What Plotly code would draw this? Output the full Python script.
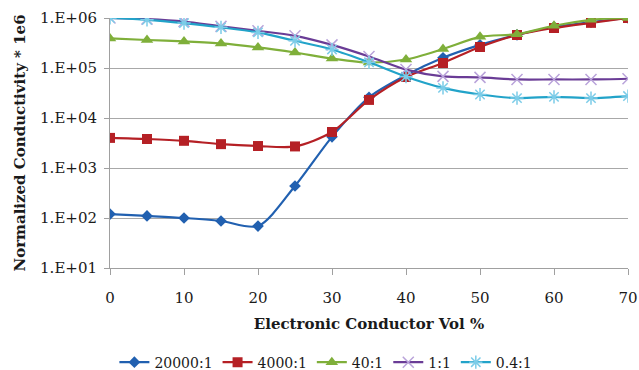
import plotly.graph_objects as go

vol = [0, 5, 10, 15, 20, 25, 30, 35, 40, 45, 50, 55, 60, 65, 70]
s20000 = [120, 110, 100, 87, 69, 437, 4200, 26000, 72000, 160000, 290000, 460000, 660000, 830000, 1000000]
s4000 = [4000, 3800, 3500, 3000, 2750, 2700, 5250, 23000, 66000, 126000, 263000, 457000, 630000, 800000, 1000000]
s40 = [390000, 363000, 340000, 310000, 258000, 204000, 155000, 129000, 148000, 240000, 420000, 475000, 700000, 920000, 1000000]
s1 = [1000000, 950000, 850000, 680000, 555000, 440000, 290000, 170000, 93000, 68000, 65000, 59000, 59000, 59000, 61000]
s04 = [1000000, 920000, 790000, 650000, 515000, 350000, 235000, 130000, 67000, 40000, 29500, 25000, 26500, 25000, 27500]

ytickvals = [10, 100, 1000, 10000, 100000, 1000000]
yticktext = ["1.E+01", "1.E+02", "1.E+03", "1.E+04", "1.E+05", "1.E+06"]
xtickvals = [0, 10, 20, 30, 40, 50, 60, 70]

series = [
    ("20000:1", s20000, "#2160B0", dict(symbol="diamond", size=9, color="#2160B0")),
    ("4000:1", s4000, "#B52025", dict(symbol="square", size=10, color="#B52025")),
    ("40:1", s40, "#7FAF3A", dict(symbol="triangle-up", size=11, color="#7FAF3A")),
    ("1:1", s1, "#6A3C96", dict(symbol="x-thin-open", size=11, color="#B9A3DA", line=dict(width=1.5, color="#B9A3DA"))),
    ("0.4:1", s04, "#22A3C9", dict(symbol="asterisk-open", size=11, color="#7CCCE8", line=dict(width=1.5, color="#7CCCE8"))),
]

fig = go.Figure()
for name, ys, col, mk in series:
    fig.add_trace(go.Scatter(x=vol, y=ys, name=name, mode="lines+markers",
                             line=dict(color=col, width=2.2, shape="spline", smoothing=0.8),
                             marker=mk))

font_family = "DejaVu Serif"
fig.update_layout(
    width=639, height=370,
    margin=dict(l=110, r=11, t=18, b=102, autoexpand=False),
    paper_bgcolor="white", plot_bgcolor="white",
    font=dict(family=font_family, size=15, color="#1a1a1a"),
    showlegend=True,
    legend=dict(orientation="h", xref="container", yref="container",
                x=0.51, xanchor="center", y=0.02, yanchor="middle",
                font=dict(size=14), itemwidth=30, tracegroupgap=0),
)
fig.update_xaxes(range=[0, 70], tickvals=xtickvals, showgrid=False, automargin=False,
                 showline=True, linecolor="#A0A0A0", linewidth=1,
                 ticks="outside", ticklen=6, tickcolor="#A0A0A0",
                 ticklabelstandoff=10,
                 zeroline=False,
                 title=dict(text="<b>Electronic Conductor Vol %</b>", font=dict(size=15), standoff=12))
fig.update_yaxes(type="log", range=[1, 6], tickvals=ytickvals, ticktext=yticktext, automargin=False,
                 showgrid=True, gridcolor="#A8A8A8", gridwidth=1,
                 showline=True, linecolor="#A0A0A0", linewidth=1,
                 ticks="outside", ticklen=5, tickcolor="#A0A0A0",
                 ticklabelstandoff=4,
                 zeroline=False,
                 title=dict(text="<b>Normalized Conductivity * 1e6</b>", font=dict(size=15), standoff=10))

fig.write_html("out.html")
